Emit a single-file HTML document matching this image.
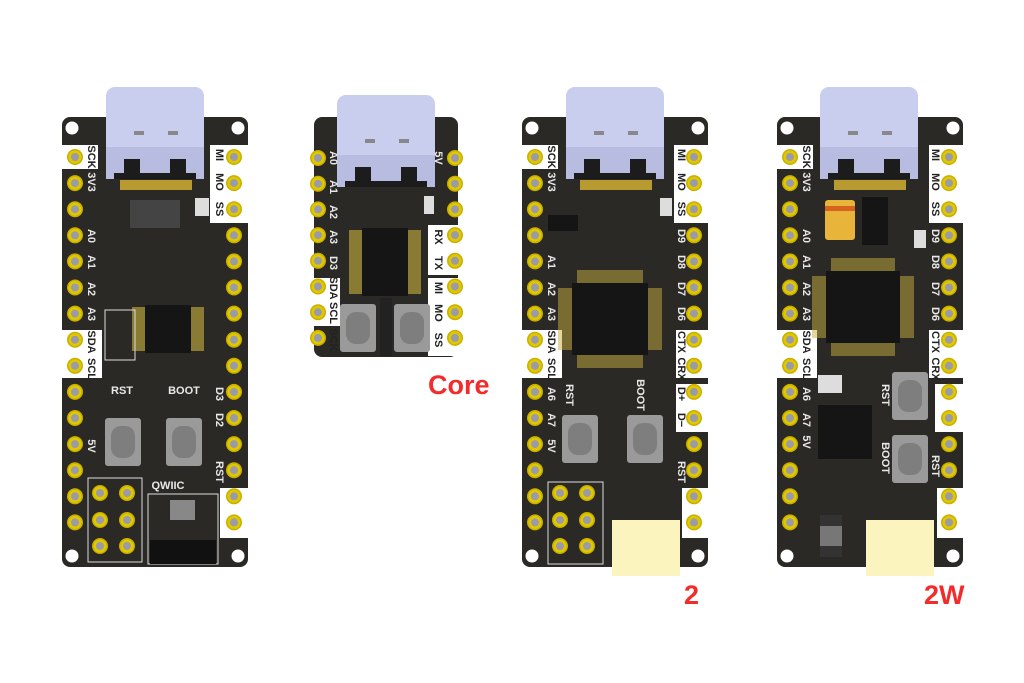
<!DOCTYPE html>
<html><head><meta charset="utf-8"><style>
html,body{margin:0;padding:0;background:#fff;width:1024px;height:683px;overflow:hidden}
svg{display:block}
.l{font-family:"Liberation Sans",sans-serif;font-size:11px;font-weight:bold;fill:#e8e8e8}
.d{fill:#222}
.r{font-family:"Liberation Sans",sans-serif;font-size:27px;font-weight:bold;fill:#f22b2b}
</style></head><body>
<svg id="s" width="1024" height="683" viewBox="0 0 1024 683" xmlns="http://www.w3.org/2000/svg">
<defs>
<g id="pad"><circle r="8" fill="#c9b000"/><circle r="6.5" fill="#e0c800"/><circle r="4" fill="#9a9aa8"/></g>
<g id="usb">
<rect x="0" y="0" width="98" height="92" rx="9" fill="#c9cdee"/>
<rect x="0" y="60" width="98" height="32" fill="#b7bce0"/>
<path d="M8 86 h10 v-14 h16 v14 h30 v-14 h16 v14 h10 v6 h-82z" fill="#1c1c1c"/>
<rect x="28" y="44" width="10" height="4" fill="#888"/><rect x="62" y="44" width="10" height="4" fill="#888"/>
</g>
<g id="btn"><rect width="36" height="48" rx="3" fill="#9a9a9a"/><rect x="6" y="8" width="24" height="32" rx="10" fill="#7e7e7e"/></g>
<g id="hole"><circle r="6.5" fill="#fff"/></g>
</defs>

<!-- Board 1 -->
<rect x="62" y="117" width="186" height="450" rx="8" fill="#2b2925"/>
<rect x="62" y="145" width="36" height="24" fill="#fff"/>
<rect x="62" y="330" width="40" height="48" fill="#fff"/>
<rect x="210" y="145" width="38" height="78" fill="#fff"/>
<rect x="220" y="488" width="28" height="50" fill="#fff"/>
<use href="#hole" x="72" y="128"/><use href="#hole" x="238" y="128"/><use href="#hole" x="72" y="556"/><use href="#hole" x="238" y="556"/>
<rect x="120" y="180" width="72" height="10" fill="#b89a30"/>
<rect x="145" y="305" width="46" height="48" fill="#151515"/>
<rect x="132" y="307" width="13" height="44" fill="#c8b040" opacity=".6"/><rect x="191" y="307" width="13" height="44" fill="#c8b040" opacity=".6"/>
<rect x="105" y="310" width="30" height="50" fill="none" stroke="#ddd" stroke-width="1"/>
<rect x="130" y="200" width="50" height="28" fill="#444"/>
<rect x="195" y="198" width="14" height="18" fill="#ddd"/>
<use href="#btn" x="105" y="418"/><use href="#btn" x="166" y="418"/>
<rect x="88" y="478" width="54" height="84" fill="none" stroke="#ddd"/>
<rect x="148" y="494" width="70" height="70" fill="none" stroke="#ddd"/>
<rect x="170" y="500" width="25" height="20" fill="#888"/>
<rect x="150" y="540" width="66" height="24" fill="#111"/>
<use href="#usb" x="106" y="87"/>
<text class="l d" transform="translate(91,157) rotate(90)" text-anchor="middle" dominant-baseline="central">SCK</text>
<text class="l" transform="translate(91,182) rotate(90)" text-anchor="middle" dominant-baseline="central">3V3</text>
<text class="l" transform="translate(91,236) rotate(90)" text-anchor="middle" dominant-baseline="central">A0</text>
<text class="l" transform="translate(91,262) rotate(90)" text-anchor="middle" dominant-baseline="central">A1</text>
<text class="l" transform="translate(91,289) rotate(90)" text-anchor="middle" dominant-baseline="central">A2</text>
<text class="l" transform="translate(91,314) rotate(90)" text-anchor="middle" dominant-baseline="central">A3</text>
<text class="l d" transform="translate(91,342) rotate(90)" text-anchor="middle" dominant-baseline="central">SDA</text>
<text class="l d" transform="translate(91,369) rotate(90)" text-anchor="middle" dominant-baseline="central">SCL</text>
<text class="l" transform="translate(91,446) rotate(90)" text-anchor="middle" dominant-baseline="central">5V</text>
<text class="l d" transform="translate(219,155) rotate(90)" text-anchor="middle" dominant-baseline="central">MI</text>
<text class="l d" transform="translate(219,182) rotate(90)" text-anchor="middle" dominant-baseline="central">MO</text>
<text class="l d" transform="translate(219,209) rotate(90)" text-anchor="middle" dominant-baseline="central">SS</text>
<text class="l" transform="translate(219,394) rotate(90)" text-anchor="middle" dominant-baseline="central">D3</text>
<text class="l" transform="translate(219,420) rotate(90)" text-anchor="middle" dominant-baseline="central">D2</text>
<text class="l" transform="translate(219,472) rotate(90)" text-anchor="middle" dominant-baseline="central">RST</text>
<text class="l" x="122" y="394" text-anchor="middle" font-size="10">RST</text>
<text class="l" x="184" y="394" text-anchor="middle" font-size="10">BOOT</text>
<text class="l" x="168" y="489" text-anchor="middle" font-size="10">QWIIC</text>

<!-- Core -->
<rect x="314" y="117" width="144" height="240" rx="8" fill="#2b2925"/>
<rect x="314" y="278" width="26" height="48" fill="#fff"/>
<rect x="428" y="225" width="30" height="50" fill="#fff"/>
<rect x="428" y="278" width="30" height="78" fill="#fff"/>
<rect x="362" y="228" width="46" height="68" fill="#151515"/>
<rect x="349" y="230" width="13" height="64" fill="#c8b040" opacity=".6"/><rect x="408" y="230" width="13" height="64" fill="#c8b040" opacity=".6"/>
<rect x="424" y="196" width="10" height="18" fill="#ddd"/>
<use href="#btn" x="340" y="304"/><use href="#btn" x="394" y="304"/>
<rect x="380" y="298" width="12" height="58" fill="#222"/>
<use href="#usb" x="337" y="95"/>
<text class="l" transform="translate(333,158) rotate(90)" text-anchor="middle" dominant-baseline="central">A0</text>
<text class="l" transform="translate(333,187) rotate(90)" text-anchor="middle" dominant-baseline="central">A1</text>
<text class="l" transform="translate(333,212) rotate(90)" text-anchor="middle" dominant-baseline="central">A2</text>
<text class="l" transform="translate(333,237) rotate(90)" text-anchor="middle" dominant-baseline="central">A3</text>
<text class="l" transform="translate(333,263) rotate(90)" text-anchor="middle" dominant-baseline="central">D3</text>
<text class="l d" transform="translate(333,288) rotate(90)" text-anchor="middle" dominant-baseline="central">SDA</text>
<text class="l d" transform="translate(333,313) rotate(90)" text-anchor="middle" dominant-baseline="central">SCL</text>
<text class="l d" transform="translate(333,340) rotate(90)" text-anchor="middle" dominant-baseline="central">SCK</text>
<text class="l" transform="translate(438,158) rotate(90)" text-anchor="middle" dominant-baseline="central">5V</text>
<text class="l d" transform="translate(438,237) rotate(90)" text-anchor="middle" dominant-baseline="central">RX</text>
<text class="l d" transform="translate(438,263) rotate(90)" text-anchor="middle" dominant-baseline="central">TX</text>
<text class="l d" transform="translate(438,288) rotate(90)" text-anchor="middle" dominant-baseline="central">MI</text>
<text class="l d" transform="translate(438,313) rotate(90)" text-anchor="middle" dominant-baseline="central">MO</text>
<text class="l d" transform="translate(438,340) rotate(90)" text-anchor="middle" dominant-baseline="central">SS</text>
<text class="r" x="428" y="394">Core</text>

<!-- Board 2 -->
<rect x="522" y="117" width="186" height="450" rx="8" fill="#2b2925"/>
<rect x="522" y="145" width="36" height="24" fill="#fff"/>
<rect x="522" y="330" width="40" height="48" fill="#fff"/>
<rect x="674" y="145" width="34" height="78" fill="#fff"/>
<rect x="676" y="330" width="32" height="48" fill="#fff"/>
<rect x="676" y="384" width="32" height="48" fill="#fff"/>
<rect x="682" y="488" width="26" height="50" fill="#fff"/>
<use href="#hole" x="532" y="128"/><use href="#hole" x="698" y="128"/><use href="#hole" x="532" y="556"/><use href="#hole" x="698" y="556"/>
<rect x="580" y="180" width="72" height="10" fill="#b89a30"/>
<rect x="572" y="283" width="76" height="72" fill="#151515"/>
<rect x="558" y="288" width="14" height="62" fill="#c8b040" opacity=".5"/><rect x="648" y="288" width="14" height="62" fill="#c8b040" opacity=".5"/>
<rect x="577" y="270" width="66" height="13" fill="#c8b040" opacity=".5"/><rect x="577" y="355" width="66" height="13" fill="#c8b040" opacity=".5"/>
<rect x="548" y="215" width="30" height="16" fill="#151515"/>
<rect x="660" y="198" width="12" height="18" fill="#ddd"/>
<use href="#btn" x="562" y="415"/><use href="#btn" x="627" y="415"/>
<rect x="548" y="482" width="55" height="82" fill="none" stroke="#ddd"/>
<rect x="612" y="520" width="68" height="56" fill="#fbf4bf"/>
<use href="#usb" x="566" y="87"/>
<text class="l d" transform="translate(551,157) rotate(90)" text-anchor="middle" dominant-baseline="central">SCK</text>
<text class="l" transform="translate(551,182) rotate(90)" text-anchor="middle" dominant-baseline="central">3V3</text>
<text class="l" transform="translate(551,262) rotate(90)" text-anchor="middle" dominant-baseline="central">A1</text>
<text class="l" transform="translate(551,289) rotate(90)" text-anchor="middle" dominant-baseline="central">A2</text>
<text class="l" transform="translate(551,314) rotate(90)" text-anchor="middle" dominant-baseline="central">A3</text>
<text class="l d" transform="translate(551,342) rotate(90)" text-anchor="middle" dominant-baseline="central">SDA</text>
<text class="l d" transform="translate(551,369) rotate(90)" text-anchor="middle" dominant-baseline="central">SCL</text>
<text class="l" transform="translate(551,394) rotate(90)" text-anchor="middle" dominant-baseline="central">A6</text>
<text class="l" transform="translate(551,420) rotate(90)" text-anchor="middle" dominant-baseline="central">A7</text>
<text class="l" transform="translate(551,446) rotate(90)" text-anchor="middle" dominant-baseline="central">5V</text>
<text class="l d" transform="translate(681,155) rotate(90)" text-anchor="middle" dominant-baseline="central">MI</text>
<text class="l d" transform="translate(681,182) rotate(90)" text-anchor="middle" dominant-baseline="central">MO</text>
<text class="l d" transform="translate(681,209) rotate(90)" text-anchor="middle" dominant-baseline="central">SS</text>
<text class="l" transform="translate(681,236) rotate(90)" text-anchor="middle" dominant-baseline="central">D9</text>
<text class="l" transform="translate(681,262) rotate(90)" text-anchor="middle" dominant-baseline="central">D8</text>
<text class="l" transform="translate(681,289) rotate(90)" text-anchor="middle" dominant-baseline="central">D7</text>
<text class="l" transform="translate(681,314) rotate(90)" text-anchor="middle" dominant-baseline="central">D6</text>
<text class="l d" transform="translate(681,342) rotate(90)" text-anchor="middle" dominant-baseline="central">CTX</text>
<text class="l d" transform="translate(681,369) rotate(90)" text-anchor="middle" dominant-baseline="central">CRX</text>
<text class="l d" transform="translate(681,394) rotate(90)" text-anchor="middle" dominant-baseline="central">D+</text>
<text class="l d" transform="translate(681,420) rotate(90)" text-anchor="middle" dominant-baseline="central">D−</text>
<text class="l" transform="translate(681,472) rotate(90)" text-anchor="middle" dominant-baseline="central">RST</text>
<text class="l" transform="translate(569,395) rotate(90)" text-anchor="middle" dominant-baseline="central" font-size="10">RST</text>
<text class="l" transform="translate(640,395) rotate(90)" text-anchor="middle" dominant-baseline="central" font-size="10">BOOT</text>
<text class="r" x="684" y="604">2</text>

<!-- Board 2W -->
<rect x="777" y="117" width="186" height="450" rx="8" fill="#2b2925"/>
<rect x="777" y="145" width="36" height="24" fill="#fff"/>
<rect x="777" y="330" width="40" height="48" fill="#fff"/>
<rect x="929" y="145" width="34" height="78" fill="#fff"/>
<rect x="929" y="330" width="34" height="48" fill="#fff"/>
<rect x="935" y="384" width="28" height="48" fill="#fff"/>
<rect x="937" y="488" width="26" height="50" fill="#fff"/>
<use href="#hole" x="787" y="128"/><use href="#hole" x="953" y="128"/><use href="#hole" x="787" y="556"/><use href="#hole" x="953" y="556"/>
<rect x="834" y="180" width="72" height="10" fill="#b89a30"/>
<rect x="826" y="271" width="74" height="72" fill="#151515"/>
<rect x="812" y="276" width="14" height="62" fill="#c8b040" opacity=".5"/><rect x="900" y="276" width="14" height="62" fill="#c8b040" opacity=".5"/>
<rect x="831" y="258" width="64" height="13" fill="#c8b040" opacity=".5"/><rect x="831" y="343" width="64" height="13" fill="#c8b040" opacity=".5"/>
<rect x="825" y="200" width="30" height="40" rx="3" fill="#e8b43a"/><rect x="825" y="206" width="30" height="5" fill="#d6641e"/>
<rect x="862" y="197" width="26" height="48" fill="#151515"/>
<rect x="914" y="230" width="12" height="18" fill="#ddd"/>
<rect x="818" y="375" width="24" height="18" fill="#ddd"/>
<rect x="818" y="405" width="54" height="54" fill="#151515"/>
<use href="#btn" x="892" y="372"/><use href="#btn" x="892" y="435"/>
<rect x="820" y="515" width="22" height="42" fill="#333"/><rect x="820" y="526" width="22" height="20" fill="#777"/>
<rect x="866" y="520" width="68" height="56" fill="#fbf4bf"/>
<use href="#usb" x="820" y="87"/>
<text class="l d" transform="translate(806,157) rotate(90)" text-anchor="middle" dominant-baseline="central">SCK</text>
<text class="l" transform="translate(806,182) rotate(90)" text-anchor="middle" dominant-baseline="central">3V3</text>
<text class="l" transform="translate(806,236) rotate(90)" text-anchor="middle" dominant-baseline="central">A0</text>
<text class="l" transform="translate(806,262) rotate(90)" text-anchor="middle" dominant-baseline="central">A1</text>
<text class="l" transform="translate(806,289) rotate(90)" text-anchor="middle" dominant-baseline="central">A2</text>
<text class="l" transform="translate(806,314) rotate(90)" text-anchor="middle" dominant-baseline="central">A3</text>
<text class="l d" transform="translate(806,342) rotate(90)" text-anchor="middle" dominant-baseline="central">SDA</text>
<text class="l d" transform="translate(806,369) rotate(90)" text-anchor="middle" dominant-baseline="central">SCL</text>
<text class="l" transform="translate(806,394) rotate(90)" text-anchor="middle" dominant-baseline="central">A6</text>
<text class="l" transform="translate(806,420) rotate(90)" text-anchor="middle" dominant-baseline="central">A7</text>
<text class="l" transform="translate(806,442) rotate(90)" text-anchor="middle" dominant-baseline="central">5V</text>
<text class="l d" transform="translate(935,155) rotate(90)" text-anchor="middle" dominant-baseline="central">MI</text>
<text class="l d" transform="translate(935,182) rotate(90)" text-anchor="middle" dominant-baseline="central">MO</text>
<text class="l d" transform="translate(935,209) rotate(90)" text-anchor="middle" dominant-baseline="central">SS</text>
<text class="l" transform="translate(935,236) rotate(90)" text-anchor="middle" dominant-baseline="central">D9</text>
<text class="l" transform="translate(935,262) rotate(90)" text-anchor="middle" dominant-baseline="central">D8</text>
<text class="l" transform="translate(935,289) rotate(90)" text-anchor="middle" dominant-baseline="central">D7</text>
<text class="l" transform="translate(935,314) rotate(90)" text-anchor="middle" dominant-baseline="central">D6</text>
<text class="l d" transform="translate(935,342) rotate(90)" text-anchor="middle" dominant-baseline="central">CTX</text>
<text class="l d" transform="translate(935,369) rotate(90)" text-anchor="middle" dominant-baseline="central">CRX</text>
<text class="l" transform="translate(935,466) rotate(90)" text-anchor="middle" dominant-baseline="central">RST</text>
<text class="l" transform="translate(885,395) rotate(90)" text-anchor="middle" dominant-baseline="central" font-size="10">RST</text>
<text class="l" transform="translate(885,458) rotate(90)" text-anchor="middle" dominant-baseline="central" font-size="10">BOOT</text>
<text class="r" x="924" y="604">2W</text>
<g id="pads"></g>
</svg>
<script>
var g=document.getElementById('pads'),ns='http://www.w3.org/2000/svg';
function pad(x,y){var u=document.createElementNS(ns,'use');u.setAttribute('href','#pad');u.setAttribute('x',x);u.setAttribute('y',y);g.appendChild(u);}
[[62,248],[522,708],[777,963]].forEach(function(b){for(var i=0;i<15;i++){var y=157+i*26.1;pad(b[0]+13,y);pad(b[1]-14,y);}});
for(var i=0;i<8;i++){var y=158+i*25.7;pad(318,y);pad(455,y);}
[[100,493],[127,493],[100,520],[127,520],[100,546],[127,546],[560,493],[587,493],[560,520],[587,520],[560,546],[587,546]].forEach(function(p){pad(p[0],p[1]);});
</script>
</body></html>
